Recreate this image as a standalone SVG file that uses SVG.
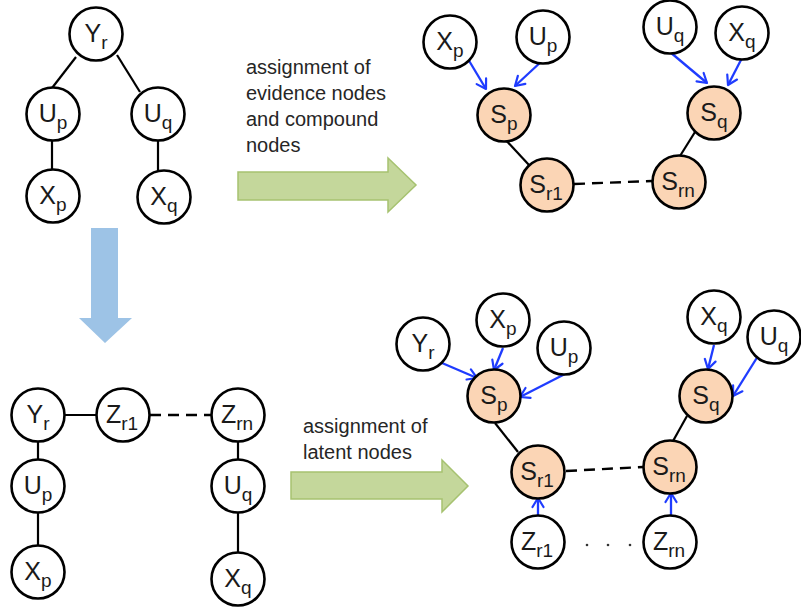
<svg xmlns="http://www.w3.org/2000/svg" width="801" height="607" viewBox="0 0 801 607">
<defs>
<marker id="ah" markerUnits="userSpaceOnUse" markerWidth="14" markerHeight="14" refX="11" refY="7" orient="auto">
<path d="M2,1.5 L11,7 L2,12.5" fill="none" stroke="#1f3cff" stroke-width="2.2" stroke-linecap="round" stroke-linejoin="round"/>
</marker>
<style>
.n circle{fill:#fff;stroke:#000;stroke-width:2.6}
.s circle{fill:#fbd5b5;stroke:#000;stroke-width:2.6}
.n text,.s text{font-family:"Liberation Sans",Arial,sans-serif;font-size:25px;fill:#1a1a1a;text-anchor:middle}
.sub{font-size:19px}
.e{stroke:#000;stroke-width:2.2;fill:none}
.d{stroke:#000;stroke-width:2.4;fill:none;stroke-dasharray:11 7}
.b{stroke:#1f3cff;stroke-width:2.3;fill:none;marker-end:url(#ah)}
.lbl{font-family:"Liberation Sans",Arial,sans-serif;font-size:20px;fill:#262626}
.ga{fill:#c4d79b;stroke:#a6c270;stroke-width:1.5}
</style>
</defs>
<rect width="801" height="607" fill="#fff"/>

<g id="connectors">
<line class="e" x1="76" y1="57" x2="52" y2="88"/>
<line class="e" x1="117" y1="55" x2="140" y2="92"/>
<line class="e" x1="52" y1="141" x2="52" y2="170"/>
<line class="e" x1="158" y1="141" x2="158" y2="172"/>
<line class="b" x1="468" y1="59" x2="486" y2="89"/>
<line class="b" x1="543" y1="60" x2="515" y2="86"/>
<line class="b" x1="670" y1="52" x2="707" y2="83"/>
<line class="b" x1="742" y1="58" x2="728" y2="85"/>
<line class="e" x1="503" y1="137" x2="529" y2="165"/>
<line class="e" x1="695" y1="132" x2="680" y2="156"/>
<line class="d" x1="574" y1="184" x2="652" y2="181"/>
<line class="e" x1="64" y1="415" x2="97" y2="415"/>
<line class="d" x1="150" y1="415" x2="211" y2="415"/>
<line class="e" x1="38" y1="442" x2="38" y2="459"/>
<line class="e" x1="38" y1="513" x2="38" y2="545"/>
<line class="e" x1="238" y1="442" x2="238" y2="459"/>
<line class="e" x1="238" y1="513" x2="238" y2="552"/>
<line class="b" x1="442" y1="363" x2="477" y2="378"/>
<line class="b" x1="503" y1="348" x2="494" y2="370"/>
<line class="b" x1="565" y1="374" x2="520" y2="397"/>
<line class="b" x1="714" y1="345" x2="708" y2="369"/>
<line class="b" x1="758" y1="356" x2="733" y2="396"/>
<line class="b" x1="538" y1="515" x2="538" y2="498"/>
<line class="b" x1="671" y1="515" x2="671" y2="493"/>
<line class="e" x1="495" y1="423" x2="518" y2="452"/>
<line class="e" x1="687" y1="416" x2="673" y2="441"/>
<line class="d" x1="566" y1="471" x2="643" y2="467"/>
</g>

<g id="arrows">
<path class="ga" d="M238,172 H388 V158 L416,185 L388,212 V200 H238 Z"/>
<path class="ga" d="M291,472 H442 V460 L468,486 L442,512 V499 H291 Z"/>
<path d="M91,228 H118 V318 H132 L105,343 L79,318 H91 Z" fill="#9dc3e6"/>
</g>

<g id="labels">
<text class="lbl" x="246" y="74">assignment of</text>
<text class="lbl" x="246" y="100">evidence nodes</text>
<text class="lbl" x="246" y="126">and compound</text>
<text class="lbl" x="246" y="152">nodes</text>
<text class="lbl" x="303" y="433">assignment of</text>
<text class="lbl" x="303" y="459">latent nodes</text>
</g>

<g id="tl-Yr" class="n"><circle cx="96" cy="34" r="26.5"/><text x="96" y="42">Y<tspan class="sub" dy="7">r</tspan></text></g>
<g id="tl-Up" class="n"><circle cx="53" cy="114" r="26.5"/><text x="53" y="122">U<tspan class="sub" dy="7">p</tspan></text></g>
<g id="tl-Uq" class="n"><circle cx="158" cy="114" r="26.5"/><text x="158" y="122">U<tspan class="sub" dy="7">q</tspan></text></g>
<g id="tl-Xp" class="n"><circle cx="53" cy="196" r="26.5"/><text x="53" y="204">X<tspan class="sub" dy="7">p</tspan></text></g>
<g id="tl-Xq" class="n"><circle cx="164" cy="197" r="26.5"/><text x="164" y="205">X<tspan class="sub" dy="7">q</tspan></text></g>

<g id="tr-Xp" class="n"><circle cx="450" cy="42" r="26.5"/><text x="450" y="50">X<tspan class="sub" dy="7">p</tspan></text></g>
<g id="tr-Up" class="n"><circle cx="543" cy="37" r="26.5"/><text x="543" y="45">U<tspan class="sub" dy="7">p</tspan></text></g>
<g id="tr-Uq" class="n"><circle cx="670" cy="27" r="26.5"/><text x="670" y="35">U<tspan class="sub" dy="7">q</tspan></text></g>
<g id="tr-Xq" class="n"><circle cx="742" cy="33" r="26.5"/><text x="742" y="41">X<tspan class="sub" dy="7">q</tspan></text></g>
<g id="tr-Sp" class="s"><circle cx="504" cy="115" r="26.5"/><text x="504" y="123">S<tspan class="sub" dy="7">p</tspan></text></g>
<g id="tr-Sq" class="s"><circle cx="714" cy="113" r="26.5"/><text x="714" y="121">S<tspan class="sub" dy="7">q</tspan></text></g>
<g id="tr-Sr1" class="s"><circle cx="547" cy="185" r="26.5"/><text x="546" y="193">S<tspan class="sub" dy="7">r1</tspan></text></g>
<g id="tr-Srn" class="s"><circle cx="679" cy="182" r="26.5"/><text x="678" y="190">S<tspan class="sub" dy="7">rn</tspan></text></g>

<g id="bl-Yr" class="n"><circle cx="38" cy="415" r="26.5"/><text x="38" y="423">Y<tspan class="sub" dy="7">r</tspan></text></g>
<g id="bl-Zr1" class="n"><circle cx="123" cy="415" r="26.5"/><text x="122" y="423">Z<tspan class="sub" dy="7">r1</tspan></text></g>
<g id="bl-Zrn" class="n"><circle cx="238" cy="415" r="26.5"/><text x="237" y="423">Z<tspan class="sub" dy="7">rn</tspan></text></g>
<g id="bl-Up" class="n"><circle cx="38" cy="486" r="26.5"/><text x="38" y="494">U<tspan class="sub" dy="7">p</tspan></text></g>
<g id="bl-Uq" class="n"><circle cx="238" cy="486" r="26.5"/><text x="238" y="494">U<tspan class="sub" dy="7">q</tspan></text></g>
<g id="bl-Xp" class="n"><circle cx="38" cy="572" r="26.5"/><text x="38" y="580">X<tspan class="sub" dy="7">p</tspan></text></g>
<g id="bl-Xq" class="n"><circle cx="238" cy="579" r="26.5"/><text x="238" y="587">X<tspan class="sub" dy="7">q</tspan></text></g>

<g id="br-Yr" class="n"><circle cx="423" cy="344" r="26.5"/><text x="423" y="352">Y<tspan class="sub" dy="7">r</tspan></text></g>
<g id="br-Xp" class="n"><circle cx="503" cy="320" r="26.5"/><text x="503" y="328">X<tspan class="sub" dy="7">p</tspan></text></g>
<g id="br-Up" class="n"><circle cx="564" cy="348" r="26.5"/><text x="564" y="356">U<tspan class="sub" dy="7">p</tspan></text></g>
<g id="br-Xq" class="n"><circle cx="714" cy="317" r="26.5"/><text x="714" y="325">X<tspan class="sub" dy="7">q</tspan></text></g>
<g id="br-Uq" class="n"><circle cx="774" cy="337" r="26.5"/><text x="774" y="345">U<tspan class="sub" dy="7">q</tspan></text></g>
<g id="br-Sp" class="s"><circle cx="494" cy="396" r="26.5"/><text x="494" y="404">S<tspan class="sub" dy="7">p</tspan></text></g>
<g id="br-Sq" class="s"><circle cx="706" cy="396" r="26.5"/><text x="706" y="404">S<tspan class="sub" dy="7">q</tspan></text></g>
<g id="br-Sr1" class="s"><circle cx="538" cy="472" r="26.5"/><text x="537" y="480">S<tspan class="sub" dy="7">r1</tspan></text></g>
<g id="br-Srn" class="s"><circle cx="670" cy="467" r="26.5"/><text x="669" y="475">S<tspan class="sub" dy="7">rn</tspan></text></g>
<g id="br-Zr1" class="n"><circle cx="538" cy="542" r="26.5"/><text x="537" y="550">Z<tspan class="sub" dy="7">r1</tspan></text></g>
<g id="br-Zrn" class="n"><circle cx="670" cy="542" r="26.5"/><text x="669" y="550">Z<tspan class="sub" dy="7">rn</tspan></text></g>
<g id="br-dots" fill="#333"><circle cx="587" cy="545" r="1.3"/><circle cx="608" cy="545" r="1.3"/><circle cx="630" cy="545" r="1.3"/></g>
</svg>
